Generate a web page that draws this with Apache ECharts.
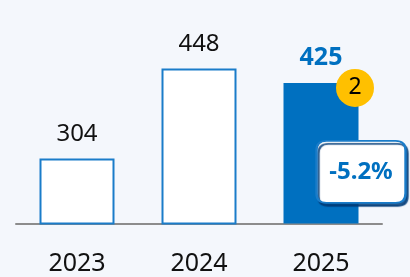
<!DOCTYPE html>
<html><head><meta charset="utf-8">
<script src="https://cdn.jsdelivr.net/npm/echarts@6/dist/echarts.min.js"></script>
<style>html,body{margin:0;padding:0;background:#F4F7FC}#c{width:410px;height:277px}</style>
</head><body><div id="c"></div>
<script>
var categories = ['2023', '2024', '2025'];
var values = [304, 448, 425];
var highlightIndex = 2;
var badgeText = '2';
var changeText = '-5.2%';

var blue = '#0070C0';
var chart = echarts.init(document.getElementById('c'));
var data = values.map(function (v, i) {
  if (i === highlightIndex) {
    return {
      value: v,
      itemStyle: { color: blue, borderColor: blue, borderWidth: 0 },
      label: { color: blue, fontWeight: 'bold', fontSize: 25, distance: 13 }
    };
  }
  return v;
});
chart.setOption({
  backgroundColor: '#F4F7FC',
  animation: false,
  grid: { left: 16, right: 28, top: 36, bottom: 53.5 },
  xAxis: {
    type: 'category', data: categories,
    axisLine: { lineStyle: { color: '#8C8C8C', width: 2 } },
    axisTick: { show: false },
    axisLabel: { fontSize: 25, color: '#111', fontFamily: 'Noto Sans', margin: 28 }
  },
  yAxis: { type: 'value', min: 200, max: 500, show: false, splitLine: { show: false } },
  series: [{
    type: 'bar', data: data, barWidth: 75, z: 1,
    itemStyle: { color: '#fff', borderColor: '#1A7CC9', borderWidth: 2 },
    label: { show: true, position: 'top', distance: 12, fontSize: 24, color: '#111', fontFamily: 'Noto Sans' },
    markPoint: {
      z: 5,
      data: [
        {
          coord: [categories[highlightIndex], values[highlightIndex]],
          symbol: 'circle', symbolSize: 38, symbolOffset: [34, 5],
          itemStyle: { color: '#FFC000' },
          label: { show: true, position: 'inside', formatter: badgeText, color: '#000', fontSize: 23, fontFamily: 'Noto Sans' }
        },
        {
          coord: [categories[highlightIndex], values[highlightIndex]],
          symbol: 'path://M10,0 L80,0 Q90,0 90,10 L90,54 Q90,64 80,64 L10,64 Q0,64 0,54 L0,10 Q0,0 10,0 Z',
          symbolSize: [89, 62], symbolOffset: [40, 89],
          itemStyle: { color: '#fff', borderColor: '#1A7CC9', borderWidth: 2, shadowBlur: 1, shadowColor: 'rgba(0,60,120,0.85)', shadowOffsetX: 2, shadowOffsetY: 3 },
          label: { show: true, position: 'inside', formatter: changeText, color: blue, fontSize: 24, fontWeight: 'bold', fontFamily: 'Noto Sans' }
        }
      ]
    }
  }]
});
</script></body></html>
